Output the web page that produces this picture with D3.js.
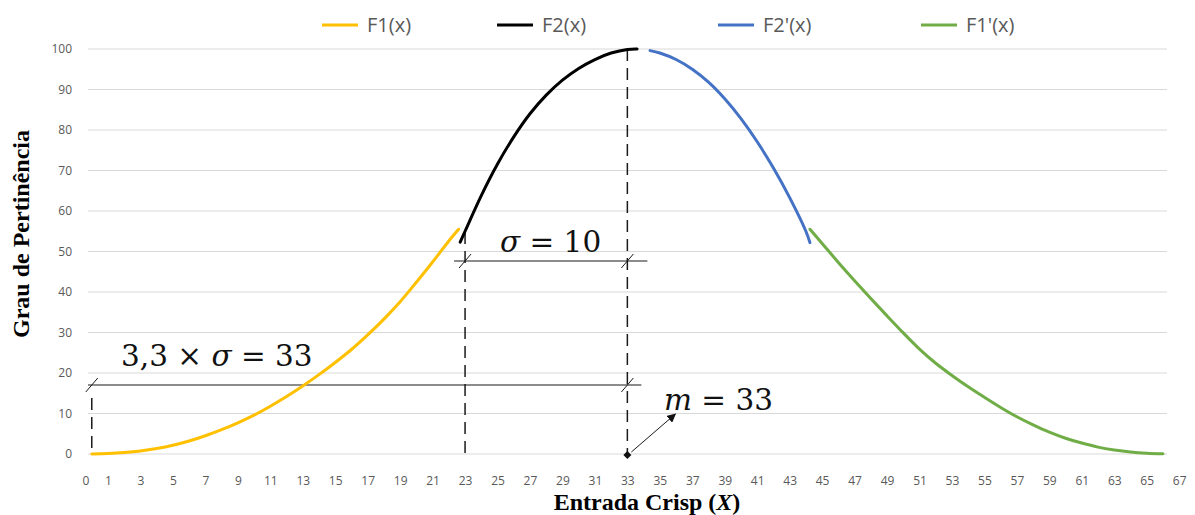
<!DOCTYPE html>
<html>
<head>
<meta charset="utf-8">
<script src="https://cdn.jsdelivr.net/npm/d3@7"></script>
<style>
  html, body { margin: 0; padding: 0; background: #fff; }
  svg { display: block; }
</style>
</head>
<body>
<svg id="chart" width="1195" height="515"></svg>
<script>
// Membership curve pieces: [x, grau]
const f1 = [[0,0],[1,0.1],[2,0.35],[3,0.75],[4,1.35],[5,2.15],[6,3.2],[7,4.5],[8,6.0],[9,7.7],[10,9.6],
  [11,11.8],[12,14.2],[13,16.8],[14,19.6],[15,22.6],[16,25.8],[17,29.4],[18,33.3],[19,37.6],[20,42.4],
  [21,47.4],[22,52.6],[22.6,55.5]];
const f2 = [[22.7,52.3],[23,55],[24,63.8],[25,71.6],[26,78.3],[27,84],[28,88.6],[29,92.3],[30,95.2],
  [31,97.4],[32,99],[33,99.9],[33.6,100]];
const f2p = [[34.4,99.6],[35,99.0],[36,97.4],[37,95.0],[38,91.8],[39,87.7],[40,82.8],[41,77.1],
  [42,70.6],[43,63.3],[44,55.0],[44.25,52.2]];
const f1p = [[44.25,55.5],[45,52.0],[46,47.3],[47,42.8],[48,38.4],[49,34.1],[50,29.9],[51,25.9],
  [52,22.4],[53,19.4],[54,16.6],[55,14.0],[56,11.5],[57,9.2],[58,7.2],[59,5.4],[60,3.9],[61,2.7],
  [62,1.7],[63,1.0],[64,0.5],[65,0.2],[66,0.05]];

const seriesNames = ["F1(x)", "F2(x)", "F2'(x)", "F1'(x)"];
const seriesData = [f1, f2, f2p, f1p];
const seriesColors = ["#FFC000", "#000000", "#4472C4", "#70AD47"];

const yTicks = [0,10,20,30,40,50,60,70,80,90,100];
const xTicks = [0,1,3,5,7,9,11,13,15,17,19,21,23,25,27,29,31,33,35,37,39,41,43,45,47,49,51,53,55,57,59,61,63,65,67];

// Gaussian parameters annotated on the chart
const m = 33;
const sigma = 10;
const k = 3.3;

const svg = d3.select("#chart");
const plotLeft = 88, plotRight = 1167;
const x = d3.scaleLinear().domain([0, 66]).range([91.77, 91.77 + 66 * 16.23]);
const y = d3.scaleLinear().domain([0, 100]).range([454, 49]);

// horizontal gridlines
svg.append("g").selectAll("line").data(yTicks).join("line")
  .attr("x1", plotLeft).attr("x2", plotRight)
  .attr("y1", d => y(d)).attr("y2", d => y(d))
  .attr("stroke", "#d9d9d9").attr("stroke-width", 1);

// y axis labels
const yAxis = svg.append("g").attr("transform", `translate(${plotLeft - 10},0)`)
  .call(d3.axisLeft(y).tickValues(yTicks).tickSize(0).tickPadding(6));
yAxis.select(".domain").remove();
yAxis.selectAll("text").attr("fill", "#595959").style("font", "12px 'Open Sans'");

// x axis labels
const xAxis = svg.append("g").attr("transform", "translate(0,468)")
  .call(d3.axisBottom(x).tickValues(xTicks).tickSize(0).tickPadding(8).tickFormat(d3.format("d")));
xAxis.select(".domain").remove();
xAxis.selectAll("text").attr("fill", "#595959").style("font", "12px 'Open Sans'");
xAxis.selectAll(".tick").filter(d => d === 0).attr("transform", `translate(${plotLeft - 2},0)`);

// annotation strokes
const ann = svg.append("g").attr("stroke", "#1a1a1a").attr("fill", "none");
const dash = "12,7";
// dashed guides
ann.append("line").attr("x1", x(0)).attr("x2", x(0)).attr("y1", 398).attr("y2", y(0))
  .attr("stroke-dasharray", dash).attr("stroke-width", 1.5);
ann.append("line").attr("x1", x(m - sigma)).attr("x2", x(m - sigma)).attr("y1", 232).attr("y2", y(0))
  .attr("stroke-dasharray", dash).attr("stroke-width", 1.5);
ann.append("line").attr("x1", x(m)).attr("x2", x(m)).attr("y1", y(100)).attr("y2", y(0))
  .attr("stroke-dasharray", dash).attr("stroke-width", 1.5);

// dimension lines
const dimK = 385, dimS = 261;
ann.append("line").attr("x1", plotLeft).attr("x2", x(m) + 14).attr("y1", dimK).attr("y2", dimK)
  .attr("stroke-width", 1.2);
ann.append("line").attr("x1", x(m - sigma) - 11).attr("x2", x(m) + 20).attr("y1", dimS).attr("y2", dimS)
  .attr("stroke-width", 1.2);
const slash = (cx, cy) => ann.append("line")
  .attr("x1", cx - 6).attr("y1", cy + 7).attr("x2", cx + 6).attr("y2", cy - 7).attr("stroke-width", 1);
slash(x(m - k * sigma), dimK); slash(x(m), dimK);
slash(x(m - sigma), dimS); slash(x(m), dimS);

// arrow to the mean
svg.append("defs").append("marker").attr("id", "ah")
  .attr("viewBox", "0 0 10 10").attr("refX", 9).attr("refY", 5)
  .attr("markerWidth", 9).attr("markerHeight", 9).attr("orient", "auto")
  .append("path").attr("d", "M0,0 L10,5 L0,10 Z").attr("fill", "#111");
ann.append("line").attr("x1", x(m) + 4).attr("y1", y(0) - 2).attr("x2", x(m) + 48).attr("y2", y(0) - 40)
  .attr("stroke-width", 1).attr("marker-end", "url(#ah)");
svg.append("path").attr("transform", `translate(${x(m)},${y(0) + 1})`)
  .attr("d", "M0,-4 L4,0 L0,4 L-4,0 Z").attr("fill", "#111");

// membership curves
const line = d3.line().x(d => x(d[0])).y(d => y(d[1])).curve(d3.curveCatmullRom.alpha(0.5));
svg.append("g").selectAll("path").data(seriesData).join("path")
  .attr("d", line).attr("fill", "none")
  .attr("stroke", (d, i) => seriesColors[i]).attr("stroke-width", 3)
  .attr("stroke-linecap", "round");

// formula labels
const math = svg.append("g").attr("fill", "#111").style("font-family", "'DejaVu Serif'").style("font-size", "29.5px");
const t1 = math.append("text").attr("x", 121).attr("y", 366);
t1.append("tspan").text("3,3 × ");
t1.append("tspan").attr("font-style", "italic").text("σ");
t1.append("tspan").text(" = 33");
const t2 = math.append("text").attr("x", 500).attr("y", 252);
t2.append("tspan").attr("font-style", "italic").text("σ");
t2.append("tspan").text(" = 10");
const t3 = math.append("text").attr("x", 664).attr("y", 410);
t3.append("tspan").attr("font-style", "italic").text("m");
t3.append("tspan").text(" = 33");

// legend
const legendX = [322, 497, 718, 921];
const lg = svg.append("g").selectAll("g").data(seriesNames).join("g")
  .attr("transform", (d, i) => `translate(${legendX[i]},25)`);
lg.append("line").attr("x1", 0).attr("x2", 36).attr("y1", 0).attr("y2", 0)
  .attr("stroke", (d, i) => seriesColors[i]).attr("stroke-width", 3);
lg.append("text").attr("x", 45).attr("y", 7).text(d => d)
  .attr("fill", "#595959").style("font", "20px 'Open Sans'");

// axis titles
svg.append("text").attr("transform", "translate(29,234) rotate(-90)")
  .attr("text-anchor", "middle").style("font", "bold 24px 'Liberation Serif'").attr("fill", "#000")
  .text("Grau de Pertinência");
const xt = svg.append("text").attr("x", 647).attr("y", 510).attr("text-anchor", "middle")
  .style("font", "bold 24px 'Liberation Serif'").attr("fill", "#000");
xt.append("tspan").text("Entrada Crisp (");
xt.append("tspan").attr("font-style", "italic").text("X");
xt.append("tspan").text(")");
</script>
</body>
</html>
